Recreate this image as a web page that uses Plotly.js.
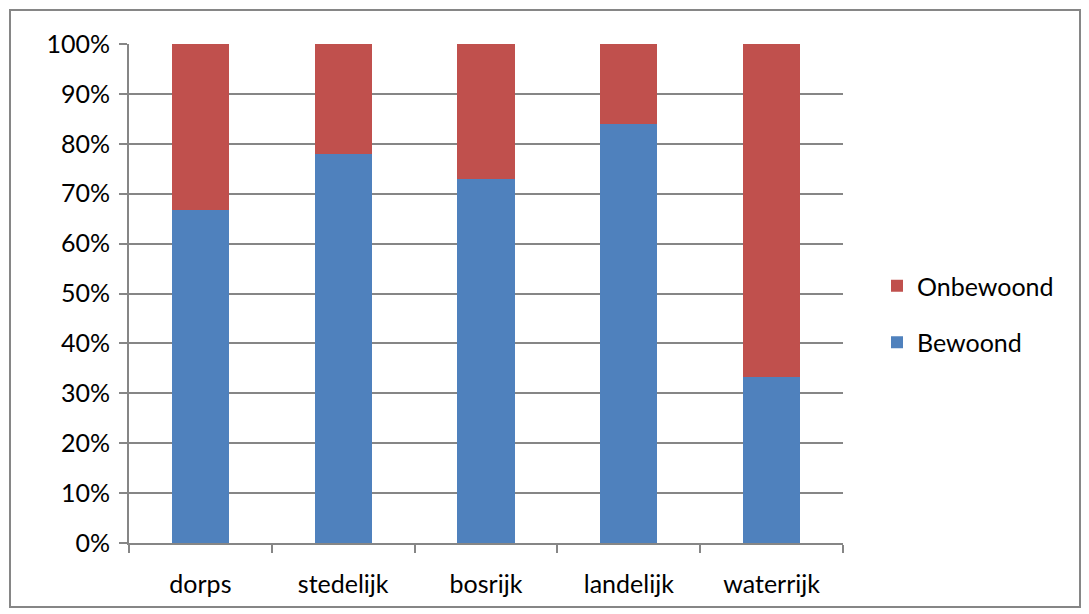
<!DOCTYPE html>
<html><head><meta charset="utf-8">
<script src="https://cdn.plot.ly/plotly-3.0.1.min.js"></script>
<style>body{margin:0;padding:0;background:#fff}#chart{width:1089px;height:614px}</style>
</head><body><div id="chart"></div>
<script>
const categories = ['dorps','stedelijk','bosrijk','landelijk','waterrijk'];
const bewoond = [66.7, 78, 73, 84, 33.3];
const onbewoond = [33.3, 22, 27, 16, 66.7];
const yTickVals = [0,10,20,30,40,50,60,70,80,90,100];
const yTickText = yTickVals.map(v => v + '%');

const font = {family: 'Lato, "Open Sans", sans-serif', size: 25, color: '#000'};
const traces = [
  {type:'bar', name:'Bewoond', legendgroup:'b', legendrank:2, x:categories, y:bewoond, marker:{color:'#4f81bd'}},
  {type:'bar', name:'Onbewoond', legendgroup:'o', legendrank:1, x:categories, y:onbewoond, marker:{color:'#c0504d'}}
];
const L=129, R=843, T=44, B=543, W=1089, H=614;
const pw=R-L, ph=B-T;
const layout = {
  width:W, height:H, barmode:'stack', bargap:0.6,
  margin:{l:L, r:W-R, t:T, b:H-B, pad:0},
  paper_bgcolor:'#fff', plot_bgcolor:'#fff', font:font, showlegend:true,
  legend:{x:(877-L)/pw, y:(B-263)/ph, xanchor:'left', yanchor:'top', traceorder:'grouped',
    font:{family:font.family, size:25, color:'#000'}, itemwidth:30, tracegroupgap:21,
    bgcolor:'rgba(0,0,0,0)'},
  xaxis:{showline:true, linecolor:'#868686', linewidth:2, ticks:'outside', ticklen:8, tickcolor:'#868686', tickwidth:2,
    tickson:'boundaries', showgrid:false, tickfont:font, ticklabelstandoff:18, fixedrange:true},
  yaxis:{range:[0,100], tickvals:yTickVals, ticktext:yTickText, showline:true, linecolor:'#868686', linewidth:2,
    ticks:'outside', ticklen:8, tickcolor:'#868686', tickwidth:2, showgrid:true, gridcolor:'#868686', gridwidth:2,
    zeroline:false, tickfont:font, ticklabelstandoff:4, fixedrange:true},
  shapes:[{type:'rect', xref:'paper', yref:'paper', x0:(10-L)/pw, x1:(1080-L)/pw, y0:(B-607)/ph, y1:(B-10)/ph,
    line:{color:'#868686', width:2}, fillcolor:'rgba(0,0,0,0)'}]
};
Plotly.newPlot('chart', traces, layout, {displayModeBar:false, staticPlot:true});
</script></body></html>
